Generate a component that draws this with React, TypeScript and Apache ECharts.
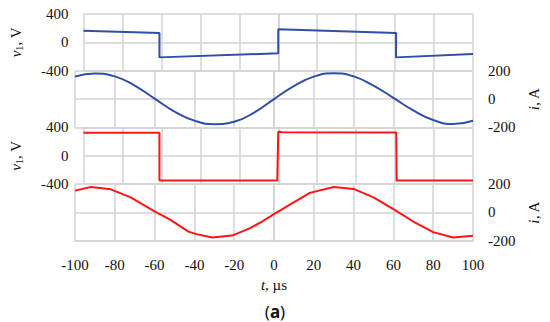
import React, { useEffect, useRef } from "react";
import * as echarts from "echarts";

// Panel 1: v1 (blue), V
const vBlueT = [-100, -61, -61, 0, 0, 60.5, 60.5, 100];
const vBlueV = [165, 133, -212, -155, 185, 133, -212, -164];

// Panel 2: i (blue), A
const iBlueT = [-100, -90, -80, -70, -60, -50, -40, -30, -20, -10, 0, 10, 20, 30, 40, 50, 60, 70, 80, 90, 100];
const iBlueV = [158, 180, 160, 95, 3, -88, -152, -177, -160, -95, 0, 92, 158, 182, 160, 95, 8, -80, -148, -176, -153];

// Panel 3: v1 (red), V
const vRedT = [-100, -61, -61, -0.5, 0, 2, 60.6, 60.8, 100];
const vRedV = [325, 325, -350, -350, 338, 330, 328, -348, -348];

// Panel 4: i (red), A
const iRedT = [-100, -92, -82, -72, -60, -52, -43, -39, -31, -21, -12, -6, 0, 8, 18, 30, 40, 50, 60, 70, 80, 90, 100];
const iRedV = [154, 180, 163, 106, 7, -52, -135, -153, -177, -163, -111, -64, -12, 55, 138, 180, 166, 106, 24, -64, -139, -177, -165];

const xTicks = { min: -100, max: 100, interval: 20 };
const vTicks = { min: -400, max: 400, interval: 400 };
const iTicks = { min: -200, max: 200, interval: 200 };

const zip = (t: number[], v: number[]) => t.map((x, k) => [x, v[k]]);

const FONT = "'Liberation Serif', 'Times New Roman', serif";
const GRID_COLOR = "#d3d3d3";
const BLUE = "#2f4fa6";
const RED = "#ff1414";
const TXT = "#111";

const labelRich = { d: { fontFamily: FONT, fontSize: 15, color: TXT } };

export default function App() {
  const ref = useRef<HTMLDivElement>(null);
  useEffect(() => {
    if (!ref.current) return;
    const chart = echarts.init(ref.current, undefined, { renderer: "svg" });
    const top0 = 14;
    const h = 56.7;
    const grids = [0, 1, 2, 3].map((k) => ({
      left: 75,
      right: 77,
      top: top0 + k * h,
      height: h,
    }));
    const xAxes = [0, 1, 2, 3].map((k) => ({
      type: "value",
      gridIndex: k,
      min: xTicks.min,
      max: xTicks.max,
      interval: xTicks.interval,
      axisTick: { show: false },
      axisLine: { show: k === 3, onZero: false, lineStyle: { color: GRID_COLOR, width: 1.5 } },
      axisLabel: {
        show: k === 3,
        margin: 17,
        fontFamily: FONT,
        fontSize: 15,
        color: TXT,
        formatter: (v: number) => "{d|" + v + "}",
        rich: labelRich,
      },
      splitLine: { show: true, lineStyle: { color: GRID_COLOR, width: 1.5 } },
      name: k === 3 ? "{it|t}{n|, µs}" : "",
      nameLocation: "middle",
      nameGap: 37,
      nameTextStyle: {
        fontFamily: FONT,
        fontSize: 15,
        color: TXT,
        rich: {
          it: { fontFamily: FONT, fontSize: 15, fontStyle: "italic", color: TXT },
          n: { fontFamily: FONT, fontSize: 15, color: TXT },
        },
      },
    }));
    const nameRich = {
      it: { fontFamily: FONT, fontSize: 15, fontStyle: "italic", color: TXT, lineHeight: 18, verticalAlign: "middle" },
      s: { fontFamily: FONT, fontSize: 10, color: TXT, lineHeight: 18, verticalAlign: "bottom" },
      n: { fontFamily: FONT, fontSize: 15, color: TXT, lineHeight: 18, verticalAlign: "middle" },
    };
    const yAxes = [0, 1, 2, 3].map((k) => {
      const isV = k % 2 === 0;
      const t = isV ? vTicks : iTicks;
      return {
        type: "value",
        gridIndex: k,
        position: isV ? "left" : "right",
        min: t.min,
        max: t.max,
        interval: t.interval,
        axisTick: { show: false },
        axisLine: { show: true, lineStyle: { color: GRID_COLOR, width: 1.5 } },
        axisLabel: {
          margin: 15,
          fontFamily: FONT,
          fontSize: 15,
          color: TXT,
          formatter: (v: number) => "{d|" + v + "}",
          rich: labelRich,
        },
        splitLine: { show: true, lineStyle: { color: GRID_COLOR, width: 1.5 } },
        name: isV ? "{it|v}{s|1}{n|, V}" : "{it|i}{n|, A}",
        nameLocation: "middle",
        nameRotate: 90,
        nameGap: isV ? 59 : 46,
        nameTextStyle: { fontFamily: FONT, fontSize: 15, color: TXT, rich: nameRich },
      };
    });
    const mk = (k: number, data: number[][], color: string, smooth: boolean) => ({
      type: "line",
      xAxisIndex: k,
      yAxisIndex: k,
      data,
      smooth,
      showSymbol: false,
      symbol: "none",
      clip: false,
      lineStyle: { color, width: 2 },
    });
    chart.setOption({
      animation: false,
      backgroundColor: "#ffffff",
      textStyle: { fontFamily: FONT },
      grid: grids,
      xAxis: xAxes,
      yAxis: yAxes,
      series: [
        mk(0, zip(vBlueT, vBlueV), BLUE, false),
        mk(1, zip(iBlueT, iBlueV), BLUE, true),
        mk(2, zip(vRedT, vRedV), RED, false),
        mk(3, zip(iRedT, iRedV), RED, false),
      ],
      graphic: [
        {
          type: "text",
          x: 275,
          y: 311,
          style: {
            text: "({b|a})",
            fontFamily: "'Noto Sans', sans-serif",
            fontSize: 17,
            fill: TXT,
            align: "center",
            verticalAlign: "middle",
            rich: { b: { fontFamily: "'Noto Sans', sans-serif", fontSize: 17, fontWeight: "bold", fill: TXT } },
          },
        },
      ],
    });
    return () => chart.dispose();
  }, []);
  return (
    <div
      ref={ref}
      style={{ position: "fixed", left: 0, top: 0, width: 550, height: 322, background: "#fff" }}
    />
  );
}
